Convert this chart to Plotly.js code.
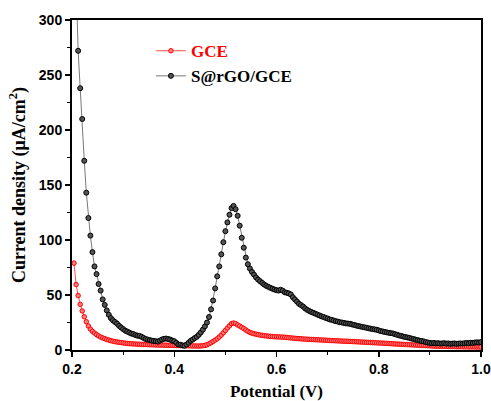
<!DOCTYPE html>
<html>
<head>
<meta charset="utf-8">
<script src="https://cdn.plot.ly/plotly-3.0.1.min.js"></script>
<style>html,body{margin:0;padding:0;background:#fff;}#chart{width:491px;height:401px;}</style>
</head>
<body>
<div id="chart"></div>
<script>
const potential = [
0.204,0.208,0.212,0.216,0.220,0.224,0.228,0.232,0.236,0.240,
0.244,0.248,0.252,0.256,0.260,0.264,0.268,0.272,0.276,0.280,
0.284,0.288,0.292,0.296,0.300,0.304,0.308,0.312,0.316,0.320,
0.324,0.328,0.332,0.336,0.340,0.344,0.348,0.352,0.356,0.360,
0.364,0.368,0.372,0.376,0.380,0.384,0.388,0.392,0.396,0.400,
0.404,0.408,0.412,0.416,0.420,0.424,0.428,0.432,0.436,0.440,
0.444,0.448,0.452,0.456,0.460,0.464,0.468,0.472,0.476,0.480,
0.484,0.488,0.492,0.496,0.500,0.504,0.508,0.512,0.516,0.520,
0.524,0.528,0.532,0.536,0.540,0.544,0.548,0.552,0.556,0.560,
0.564,0.568,0.572,0.576,0.580,0.584,0.588,0.592,0.596,0.600,
0.604,0.608,0.612,0.616,0.620,0.624,0.628,0.632,0.636,0.640,
0.644,0.648,0.652,0.656,0.660,0.664,0.668,0.672,0.676,0.680,
0.684,0.688,0.692,0.696,0.700,0.704,0.708,0.712,0.716,0.720,
0.724,0.728,0.732,0.736,0.740,0.744,0.748,0.752,0.756,0.760,
0.764,0.768,0.772,0.776,0.780,0.784,0.788,0.792,0.796,0.800,
0.804,0.808,0.812,0.816,0.820,0.824,0.828,0.832,0.836,0.840,
0.844,0.848,0.852,0.856,0.860,0.864,0.868,0.872,0.876,0.880,
0.884,0.888,0.892,0.896,0.900,0.904,0.908,0.912,0.916,0.920,
0.924,0.928,0.932,0.936,0.940,0.944,0.948,0.952,0.956,0.960,
0.964,0.968,0.972,0.976,0.980,0.984,0.988,0.992,0.996,1.000
];
const gceCurrent = [
79,59.5,49.5,41.5,35.5,30.2,25.7,21.8,19,17,
15.4,14,12.8,11.8,11,10.3,9.6,9,8.5,8,
7.6,7.3,7,6.7,6.5,6.2,6,5.8,5.7,5.5,
5.4,5.3,5.2,5.1,5,5,4.9,4.8,4.8,4.7,
4.6,4.6,4.5,4.5,4.4,4.4,4.3,4.3,4.2,4.2,
4.1,4.1,4,4,3.9,3.9,3.8,3.8,3.7,3.7,
3.6,3.6,3.7,3.9,4.2,4.8,5.6,6.6,7.8,9,
10.2,11.8,13.6,15.6,17.8,20,22,24,24.5,24,
22.8,21.8,20.6,19.5,18.2,17,16,15.3,14.8,14.4,
14,13.6,13.3,13,12.8,12.6,12.4,12.2,12.1,12,
11.9,11.8,11.7,11.6,11.4,11.2,11,10.8,10.6,10.4,
10.3,10.2,10,9.9,9.8,9.7,9.6,9.5,9.4,9.3,
9.2,9.1,9,8.9,8.8,8.7,8.6,8.5,8.4,8.3,
8.2,8.1,8,8,7.9,7.8,7.7,7.6,7.5,7.4,
7.3,7.2,7.1,7,6.9,6.8,6.7,6.6,6.5,6.4,
6.3,6.2,6.1,6,5.9,5.8,5.6,5.5,5.4,5.3,
5.2,5.1,5,4.9,4.8,4.7,4.6,4.5,4.4,4.3,
4.2,4.1,4,3.9,3.8,3.7,3.6,3.5,3.5,3.4,
3.4,3.3,3.3,3.2,3.2,3.1,3.1,3.0,3.0,3.0,
2.9,2.9,2.9,2.8,2.8,2.8,2.8,2.7,2.7,2.7
];
const srgoCurrent = [
400,330,272,238,210,172,143,120,104,89,
76,69,60,54,46,41,36,32,29,27,
25.5,24,22,20.5,19,17.6,16.8,15.8,15,14.5,
13.6,13,12.8,12,11,10,9.5,9,8.5,8.2,
8,7.6,8.5,9.5,10.2,10.4,10,9.5,8.6,8,
6.5,5,4.8,4.2,3.8,5,6.5,8.3,9.5,10.8,
12,13.8,16,18.5,21.5,25,30,37,45,56,
67,76,87,98,108,116,123,129,131,128,
122,113,102,93,84,78,74,71,68.5,66,
64,62.5,61,59.5,58.3,57.4,56.5,55.7,55,54.4,
54,54.8,54,52.5,52,51.5,50.5,48,46,44,
42,40.8,39.5,37.8,36.5,35.5,34.6,33.8,33,32.2,
31.4,30.6,30,29.2,28.6,27.8,27.4,26.8,26.2,25.8,
25.2,25,24.6,24.2,24,23.8,23.2,22.8,22.2,21.8,
21.4,21,20.6,20.2,19.8,19.4,19,18.7,18.4,17.8,
17.2,16.8,16.4,16,15.6,15.3,15,14.4,13.8,13.2,
12.8,12.2,11.8,11.4,11,10.4,10,9.4,9,8.5,
8.2,7.8,7.2,6.8,6.4,6.2,6.4,6,6.2,5.8,
6,6.2,5.8,6,5.6,5.8,6,5.6,5.8,6,
5.8,6.2,6.4,6.2,6.6,6.4,6.8,7,6.8,7.2
];
const seriesNames = ['GCE', 'S@rGO/GCE'];
const xTickVals = [0.2, 0.4, 0.6, 0.8, 1.0];
const xTickText = ['0.2', '0.4', '0.6', '0.8', '1.0'];
const yTickVals = [0, 50, 100, 150, 200, 250, 300];

const traces = [
  {
    x: potential, y: gceCurrent, type: 'scatter', mode: 'lines+markers',
    name: '<span style="color:#ff0000">' + seriesNames[0] + '</span>',
    line: {color: '#ff2020', width: 0.8},
    marker: {symbol: 'circle', size: 4.5, color: '#ff8080', line: {color: '#ff0000', width: 1}}
  },
  {
    x: potential, y: srgoCurrent, type: 'scatter', mode: 'lines+markers',
    name: seriesNames[1],
    line: {color: '#555555', width: 0.8},
    marker: {symbol: 'circle', size: 5, color: '#555555', line: {color: '#000000', width: 1}}
  }
];

const axisFont = {family: 'Liberation Sans, Arial, sans-serif', size: 14, color: '#000', weight: 'bold'};
const titleFont = {family: 'Liberation Serif, Times New Roman, serif', size: 17, color: '#000', weight: 'bold'};

const layout = {
  width: 491, height: 401,
  margin: {l: 72, r: 10, t: 20, b: 51},
  paper_bgcolor: '#fff', plot_bgcolor: '#fff',
  showlegend: true,
  legend: {
    x: 0.193, y: 0.96, xanchor: 'left', yanchor: 'top',
    bgcolor: 'rgba(0,0,0,0)', borderwidth: 0,
    font: {family: 'Liberation Serif, Times New Roman, serif', size: 17, color: '#000', weight: 'bold'},
    tracegroupgap: 0, itemwidth: 30
  },
  xaxis: {
    range: [0.2, 1.0], tickvals: xTickVals, ticktext: xTickText,
    ticks: 'outside', ticklen: 5, tickwidth: 1.5, tickcolor: '#000',
    minor: {dtick: 0.1, tick0: 0.2, ticks: 'outside', ticklen: 3, tickwidth: 1.2, tickcolor: '#000'},
    showline: true, linecolor: '#000', linewidth: 2, mirror: true,
    showgrid: false, zeroline: false,
    tickfont: axisFont,
    title: {text: 'Potential (V)', font: titleFont, standoff: 13}
  },
  yaxis: {
    range: [0, 300], tickvals: yTickVals,
    ticks: 'outside', ticklen: 5, tickwidth: 1.5, tickcolor: '#000',
    minor: {dtick: 25, tick0: 0, ticks: 'outside', ticklen: 3, tickwidth: 1.2, tickcolor: '#000'},
    showline: true, linecolor: '#000', linewidth: 2, mirror: true,
    showgrid: false, zeroline: false,
    tickfont: axisFont,
    title: {text: 'Current density (μA/cm<sup>2</sup>)', font: {family: titleFont.family, size: 18, color: '#000', weight: 'bold'}, standoff: 9}
  }
};

Plotly.newPlot('chart', traces, layout, {displayModeBar: false, staticPlot: true});
</script>
</body>
</html>
